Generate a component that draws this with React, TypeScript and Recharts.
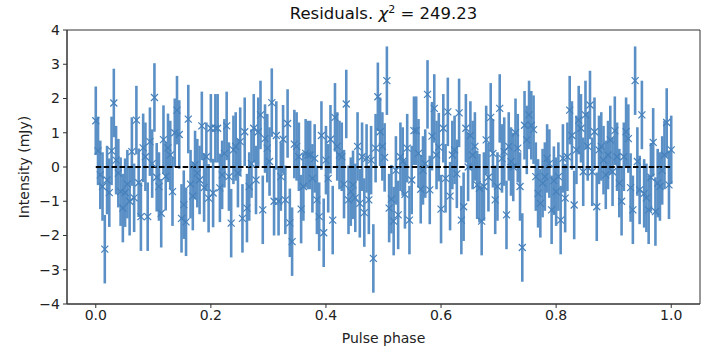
import { ComposedChart, Scatter, XAxis, YAxis, ErrorBar, ReferenceLine, ReferenceArea } from "recharts"

// residual per phase bin (mJy)
const residuals = [
    1.35, 0.47, -0.23, -0.57, -2.4, -0.38, -0.75, 0.47, 1.87, 0.2,
    -0.18, -0.72, -1.2, -0.75, -0.5, -1.0, 0.45, -0.9, 1.37, -0.46,
    -1.45, 0.56, 0.3, -1.45, 0.74, 0.1, 2.03, -0.3, -0.57, -1.35,
    0.8, -0.27, 0.56, 0.35, -0.72, 1.0, 1.66, 0.95, -1.5, -1.1,
    -1.6, 1.4, -0.5, -0.85, 0.06, -0.18, -0.38, 1.2, -0.6, 0.3,
    -0.91, 1.13, -0.76, 1.13, 1.13, -0.61, -0.23, 0.4, 1.2, -0.28,
    -1.64, 0.5, 0.6, -0.18, 0.74, -1.5, 1.03, -1.2, -0.57, 0.1,
    1.13, -0.38, 1.03, 1.52, -1.25, 0.83, 0.55, 0.16, 1.88, -1.0,
    0.92, -1.0, -0.28, 0.81, -0.96, 1.27, -1.63, -2.18, 0.67, 0.6,
    0.3, -1.23, -0.57, 0.4, 0.35, 0.35, -0.33, 0.25, -0.96, -1.45,
    0.92, -1.92, 0.2, -0.33, 0.81, -1.55, 1.45, 0.6, 0.35, 0.3,
    -0.5, 1.84, -0.96, -0.72, -0.52, -0.9, 0.6, -1.06, 0.3, -1.33,
    0.25, -0.96, 0.2, -2.67, 0.55, 2.05, 1.03, 0.6, 0.28, 2.52,
    -1.2, -0.94, -1.58, -0.1, -1.4, 0.3, 0.16, -0.8, 0.55, -1.55,
    -0.38, 1.06, 1.06, 0.4, -0.65, -0.1, 0.1, 2.12, -0.67, 0.9,
    1.71, 0.35, 0.58, -1.23, 1.13, -0.33, 1.61, -0.85, 0.35, 0.5,
    -0.2, 1.58, -1.55, -1.16, 1.13, 0.0, 0.92, 0.35, 0.6, -0.52,
    -0.62, -1.58, -0.57, 0.79, -0.3, 1.45, 0.4, -0.96, -0.57, 1.71,
    0.25, 0.45, -1.4, 0.6, 0.16, 0.0, 1.0, 0.55, -0.57, -2.35,
    1.22, 0.79, 1.52, 1.22, 1.09, -0.28, -0.77, -1.06, -0.47, -0.28,
    0.25, 0.1, -1.25, -0.4, -0.72, -0.28, -1.55, 0.25, -0.91, 0.3,
    1.66, 0.92, -1.11, 0.5, 1.37, 1.13, -0.14, 1.52, 0.6, 1.81,
    -0.14, 1.03, -1.16, 0.5, 0.6, 0.2, -0.23, 0.35, 0.79, -0.14,
    1.06, 0.3, -0.47, -1.0, 0.3, 1.03, 0.83, -0.6, -1.25, 2.52,
    0.16, -0.67, 1.52, -0.77, -0.9, -1.25, -0.3, 0.72, -1.3, -0.47,
    -0.57, -0.1, 0.35, 1.3, -0.52, 0.5,
]
const sigma = 1.0
const xTicks = [0, 0.2, 0.4, 0.6, 0.8, 1.0]
const yTicks = [-4, -3, -2, -1, 0, 1, 2, 3, 4]
const chi2 = "249.23"

const data = residuals.map((r, i) => ({
    phase: i / (residuals.length - 1),
    r,
    err: sigma,
}))

const font = "'DejaVu Sans', sans-serif"
const minus = (v: number) => (v < 0 ? `\u2212${Math.abs(v)}` : `${v}`)

const XMark = (props: any) => {
    const { cx, cy } = props
    if (cx == null || cy == null) return null
    const s = 3.5
    return (
        <path
            d={`M${cx - s},${cy - s}L${cx + s},${cy + s}M${cx - s},${cy + s}L${cx + s},${cy - s}`}
            stroke="#4680bb"
            strokeWidth={1.2}
            fill="none"
        />
    )
}

export default function App() {
    return (
        <div style={{ position: "absolute", left: 0, top: 0, width: 703, height: 346, background: "#fff" }}>
            <div
                style={{
                    position: "absolute",
                    left: 67,
                    top: 4,
                    width: 633,
                    textAlign: "center",
                    fontFamily: font,
                    fontSize: 16.5,
                    color: "#111",
                    lineHeight: "20px",
                }}
            >
                Residuals. <i>χ</i>
                <sup style={{ fontSize: 11, lineHeight: 0 }}>2</sup> = {chi2}
            </div>
            <ComposedChart
                width={703}
                height={346}
                data={data}
                margin={{ top: 30, right: 3, bottom: 0, left: 0 }}
                style={{ fontFamily: font }}
            >
                <XAxis
                    type="number"
                    dataKey="phase"
                    domain={[-0.05, 1.05]}
                    ticks={xTicks}
                    tickFormatter={(v) => v.toFixed(1)}
                    height={42}
                    stroke="#333"
                    tick={{ fill: "#222", fontSize: 14 }}
                    tickSize={4}
                    tickMargin={2}
                    allowDataOverflow
                    label={{ value: "Pulse phase", position: "insideBottom", offset: 3, fill: "#222", fontSize: 14 }}
                />
                <YAxis
                    type="number"
                    domain={[-4, 4]}
                    ticks={yTicks}
                    tickFormatter={minus}
                    width={67}
                    stroke="#333"
                    tick={{ fill: "#222", fontSize: 14 }}
                    tickSize={4}
                    tickMargin={3}
                    allowDataOverflow
                    label={{
                        content: () => (
                            <text
                                x={25}
                                y={167}
                                transform="rotate(-90 25 167)"
                                textAnchor="middle"
                                dominantBaseline="middle"
                                fill="#222"
                                fontSize={14}
                                fontFamily={font}
                            >
                                Intensity (mJy)
                            </text>
                        ),
                    }}
                />
                <ReferenceArea x1={-0.05} x2={1.05} y1={-4} y2={4} fill="none" stroke="#333" strokeWidth={1} />
                <Scatter data={data} dataKey="r" shape={XMark} isAnimationActive={false}>
                    <ErrorBar dataKey="err" direction="y" width={0} stroke="#5a90c6" strokeWidth={2.6} isAnimationActive={false} />
                </Scatter>
                <ReferenceLine
                    segment={[{ x: 0, y: 0 }, { x: 1, y: 0 }]}
                    stroke="#000"
                    strokeWidth={1.8}
                    strokeDasharray="5.5 2.4"
                />
            </ComposedChart>
        </div>
    )
}
